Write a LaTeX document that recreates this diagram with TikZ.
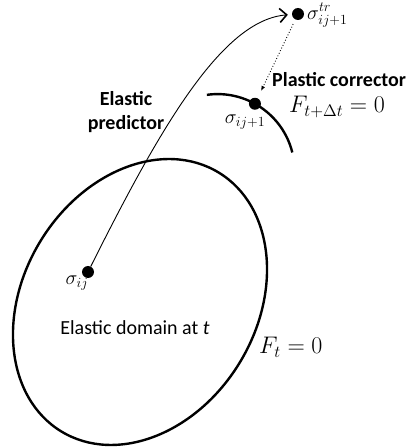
\documentclass[tikz,border=0pt]{standalone}
\usepackage{fix-cm}
\usepackage{fontspec}
\setmainfont{Carlito}
\usepackage{tikz}
\usetikzlibrary{arrows.meta}

\begin{document}
\begin{tikzpicture}[x=1pt,y=1pt,
  dot/.style={circle,fill=black,inner sep=0pt,minimum size=12pt},
  surface/.style={draw=black,line width=2.4pt},
  predict/.style={draw=black,line width=0.9pt,-{Straight Barb[length=7pt,width=14pt,line width=1.6pt]},shorten >=4pt},
  correct/.style={draw=black,line width=0.9pt,dotted,-{Latex[length=5pt,width=4pt]},shorten <=5pt,shorten >=8pt},
  lbl/.style={font=\fontsize{20}{24}\selectfont,inner sep=0pt},
  head/.style={font=\fontsize{20}{24}\selectfont\bfseries,inner sep=0pt,align=center},
  yieldlbl/.style={font=\fontsize{24}{28}\selectfont,inner sep=0pt}]
\useasboundingbox (0,0) rectangle (409,448);
% yield surfaces
\draw[surface,rotate around={58.7:(140,146)}] (140,146) ellipse [x radius=151.5pt,y radius=116.7pt];
\coordinate (yc) at (217.6,276.9);
\draw[surface] ([shift={(98:77)}]yc) arc[start angle=98,end angle=14,radius=77pt];
% stress states
\node[dot] (sij) at (88,176) {};
\node[dot] (trial) at (298,434) {};
\node[dot] (corr) at ([shift={(61:77)}]yc) {};
\node[lbl] (sijlbl) at (77,165) {$\sigma_{ij}$};
\node[lbl,anchor=west] (triallbl) at (307,433) {$\sigma_{ij+1}^{tr}$};
\node[lbl] (corrlbl) at (245,326) {$\sigma_{ij+1}$};
% labels
\node[head] (pred) at (126,336) {Elastic\\predictor};
\node[head,anchor=west] (plast) at (272,368) {Plastic corrector};
\node[yieldlbl,anchor=base west] (fnew) at (289,335) {$F_{t+\Delta t}=0$};
\node[yieldlbl,anchor=base west] (fold) at (259,94) {$F_t=0$};
\node[lbl,anchor=base] (dom) at (135,113) {Elastic domain at \textit{t}};
% paths
\draw[predict] (sij) .. controls (160,320) and (222,428) .. (trial);
\draw[correct] (trial) -- (corr);
\end{tikzpicture}
\end{document}
